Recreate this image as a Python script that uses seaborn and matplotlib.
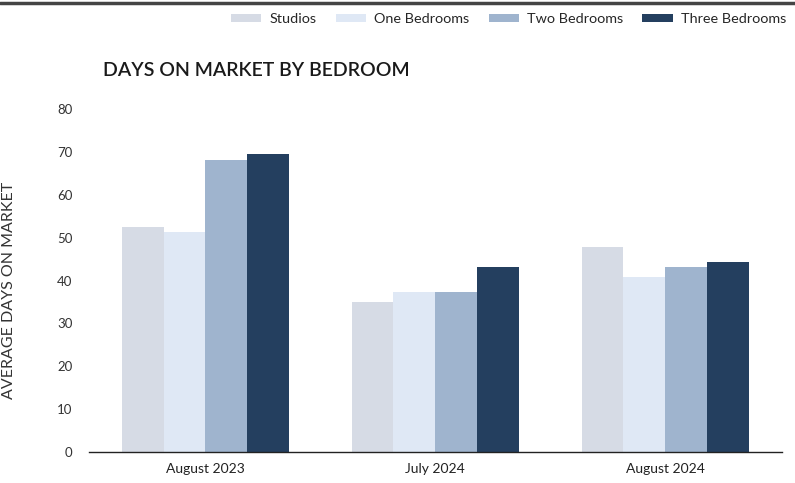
import numpy as np
import pandas as pd
import matplotlib
matplotlib.use("Agg")
import matplotlib.pyplot as plt
from matplotlib.lines import Line2D
import seaborn as sns

periods = ["August 2023", "July 2024", "August 2024"]
bedrooms = ["Studios", "One Bedrooms", "Two Bedrooms", "Three Bedrooms"]
studios = [52.5, 35.0, 47.8]
one_bed = [51.3, 37.3, 40.8]
two_bed = [68.1, 37.3, 43.1]
three_bed = [69.6, 43.1, 44.3]
colors = ["#d6dbe5", "#dfe8f5", "#9fb4ce", "#243f5f"]

rows = []
for name, vals in zip(bedrooms, [studios, one_bed, two_bed, three_bed]):
    for p, v in zip(periods, vals):
        rows.append({"period": p, "type": name, "days": v})
df = pd.DataFrame(rows)

sns.set_theme(style="white")
plt.rcParams["font.family"] = ["Lato", "DejaVu Sans"]

fig = plt.figure(figsize=(7.95, 4.83), dpi=100)
ax = fig.add_axes([0.112, 0.0642, 0.872, 0.71])

sns.barplot(data=df, x="period", y="days", hue="type", order=periods,
            hue_order=bedrooms, palette=colors, width=0.727, gap=0,
            saturation=1, linewidth=0, edgecolor="none", ax=ax, legend=True)

ax.set_ylim(0, 80)
ax.set_xlim(-0.506, 2.51)
ax.set_yticks(range(0, 81, 10))
ax.set_xlabel("")
ax.set_ylabel("AVERAGE DAYS ON MARKET", fontsize=11.5, color="#333333")
ax.yaxis.set_label_coords(-0.105, 0.47)
ax.tick_params(axis="y", length=0, labelsize=9.5, labelcolor="#333333", pad=12)
ax.tick_params(axis="x", length=0, labelsize=10, labelcolor="#222222", pad=8)
for s in ["top", "right", "left"]:
    ax.spines[s].set_visible(False)
ax.spines["bottom"].set_color("#222222")
ax.spines["bottom"].set_linewidth(1.0)

handles, labels = ax.get_legend_handles_labels()
ax.get_legend().remove()
fig.legend(handles, labels, loc="upper right", bbox_to_anchor=(1.005, 1.0),
           ncol=4, frameon=False, fontsize=10.4, handlelength=2.1,
           handleheight=0.45, handletextpad=0.55, columnspacing=1.35)

fig.text(0.129, 0.855, "DAYS ON MARKET BY BEDROOM", fontsize=14,
         fontweight="semibold", color="#1a1a1a", ha="left", va="center")

fig.add_artist(Line2D([0, 1], [0.994, 0.994], color="#444444", linewidth=2.5,
                      transform=fig.transFigure))

fig.savefig("out.png", dpi=100)
